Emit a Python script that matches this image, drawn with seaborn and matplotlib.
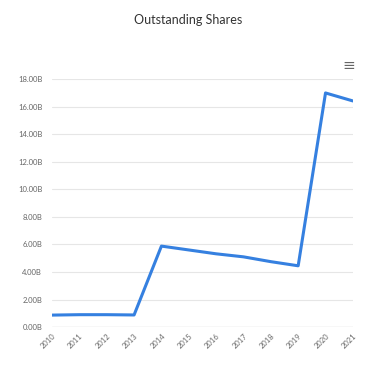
import matplotlib
matplotlib.use("Agg")
import matplotlib.pyplot as plt
import seaborn as sns
import pandas as pd

# Data (billions of shares)
years = [2010, 2011, 2012, 2013, 2014, 2015, 2016, 2017, 2018, 2019, 2020, 2021]
shares = [0.87, 0.9, 0.9, 0.88, 5.88, 5.6, 5.32, 5.1, 4.75, 4.45, 17.0, 16.42]
y_ticks = [0, 2, 4, 6, 8, 10, 12, 14, 16, 18]

df = pd.DataFrame({"year": years, "shares": shares})

sns.set_style("white")
plt.rcParams['font.family'] = ['Lato', 'DejaVu Sans']

fig = plt.figure(figsize=(3.77, 3.70), dpi=100)
ax = fig.add_axes([0.138, 0.116, 0.798, 0.670])

sns.lineplot(data=df, x="year", y="shares", ax=ax, color="#3580e0", linewidth=2.2)

ax.set_xlim(years[0], years[-1])
ax.set_ylim(0, 18)
ax.set_yticks(y_ticks)
ax.set_yticklabels([f"{v:.2f}B" for v in y_ticks])
ax.set_xticks(years)
ax.set_xticklabels([str(y) for y in years], rotation=45, ha="right", rotation_mode="anchor")
ax.tick_params(axis="both", length=0, labelsize=5.5, colors="#666666")
ax.tick_params(axis="y", pad=7)
ax.tick_params(axis="x", pad=4)
ax.grid(axis="y", color="#e6e6e6", linewidth=0.8)
ax.set_axisbelow(True)
for s in ax.spines.values():
    s.set_visible(False)
ax.axhline(0, color="#e0e0e0", linewidth=1.0, zorder=0)
ax.set_xlabel("")
ax.set_ylabel("")

fig.text(0.5, 0.946, "Outstanding Shares", ha="center", va="center", fontsize=9, color="#333333")
fig.text(0.925, 0.822, "≡", ha="center", va="center", fontsize=11, color="#666666",
         family="DejaVu Sans")

fig.savefig("out.png", dpi=100)
